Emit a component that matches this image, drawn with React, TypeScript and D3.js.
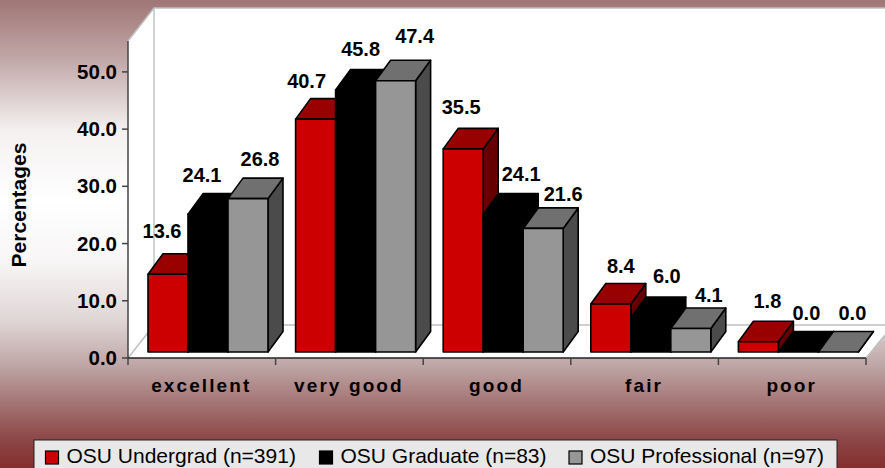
import * as d3 from "d3";

const WIDTH = 885;
const HEIGHT = 468;

const categories = ["excellent", "very good", "good", "fair", "poor"];
const seriesNames = ["OSU Undergrad (n=391)", "OSU Graduate (n=83)", "OSU Professional (n=97)"];
const undergrad = [13.6, 40.7, 35.5, 8.4, 1.8];
const graduate = [24.1, 45.8, 24.1, 6.0, 0.0];
const professional = [26.8, 47.4, 21.6, 4.1, 0.0];
const yTicks = [0, 10, 20, 30, 40, 50];

const allSeries = [undergrad, graduate, professional];

// front, top, side faces per series
const FACES = [
  ["#cc0000", "#990000", "#660000"],
  ["#000000", "#000000", "#000000"],
  ["#969696", "#707070", "#4b4b4b"],
];

// the data labels were placed by hand in the original chart: [dx from bar centre, dy from back top]
const LABEL_NUDGE = [
  [[-6, -16], [-6, -12], [12, -12]],
  [[-9, -11], [5, -13.5], [19, -17]],
  [[-2, -14], [18, -12.5], [20, -7]],
  [[10, -10.5], [16, -14], [18, -6]],
  [[9, -13], [8, -11.5], [14, -11.5]],
];

const LEGEND_X = [45.5, 319.5, 569];

// background gradient, [y in px, colour]
const BG_STOPS: [number, string][] = [
  [0, "#a07676"],
  [60, "#c2a8a8"],
  [130, "#f4f0f0"],
  [200, "#ffffff"],
  [260, "#f8f6f6"],
  [320, "#e0d6d6"],
  [365, "#bfa6a6"],
  [400, "#a67878"],
  [440, "#8c4646"],
  [468, "#852e2e"],
];

const PLOT = { left: 128, right: 866, top: 41, bottom: 358 };
const WALL = { dx: 26, dy: -33 };
const BAR = { dx: 15, dy: -20.5, floorGap: 6, padLeft: 20, padRight: 7.6 };

const x0 = d3.scaleBand<string>().domain(categories).range([PLOT.left, PLOT.right]);
const x1 = d3
  .scaleBand<number>()
  .domain([0, 1, 2])
  .range([BAR.padLeft, x0.bandwidth() - BAR.padRight]);
const y = d3.scaleLinear().domain([0, 55.4]).range([PLOT.bottom, PLOT.top]);

const poly = (pts: number[][]) => pts.map((p) => p.join(",")).join(" ");

function Bar3D({ cat, s, value }: { cat: string; s: number; value: number }) {
  const left = (x0(cat) ?? 0) + (x1(s) ?? 0);
  const right = left + x1.bandwidth();
  const bottom = y(0) - BAR.floorGap;
  const top = y(value) - BAR.floorGap;
  const [front, topFace, side] = FACES[s];
  const { dx, dy } = BAR;
  return (
    <g stroke="#000" strokeWidth={1.6} strokeLinejoin="round">
      <polygon
        points={poly([[right, bottom], [right + dx, bottom + dy], [right + dx, top + dy], [right, top]])}
        fill={side}
      />
      <polygon
        points={poly([[left, top], [left + dx, top + dy], [right + dx, top + dy], [right, top]])}
        fill={topFace}
      />
      <rect x={left} y={top} width={x1.bandwidth()} height={bottom - top} fill={front} />
    </g>
  );
}

export default function App() {
  const backX = PLOT.left + WALL.dx;
  const backY = PLOT.bottom + WALL.dy;
  return (
    <svg
      width={WIDTH}
      height={HEIGHT}
      style={{ position: "absolute", left: 0, top: 0, display: "block" }}
      fontFamily="'Liberation Sans', Arial, sans-serif"
    >
      <defs>
        <linearGradient id="bg" x1="0" y1="0" x2="0" y2="1">
          {BG_STOPS.map(([py, color]) => (
            <stop key={py} offset={py / HEIGHT} stopColor={color} />
          ))}
        </linearGradient>
      </defs>
      <rect width={WIDTH} height={HEIGHT} fill="url(#bg)" />

      {/* walls and floor */}
      <polygon
        points={poly([[backX, PLOT.top + WALL.dy], [WIDTH, PLOT.top + WALL.dy], [WIDTH, backY], [backX, backY]])}
        fill="#fff"
      />
      <polygon
        points={poly([[PLOT.left, PLOT.top], [backX, PLOT.top + WALL.dy], [backX, backY], [PLOT.left, PLOT.bottom]])}
        fill="#fff"
      />
      <polygon
        points={poly([[PLOT.left, PLOT.bottom], [backX, backY], [WIDTH, backY], [WIDTH, backY + 10], [PLOT.right, PLOT.bottom]])}
        fill="#fff"
      />
      <g stroke="#c0c0c0" strokeWidth={1.5} fill="none">
        <polyline points={poly([[PLOT.left, PLOT.top], [backX, PLOT.top + WALL.dy], [WIDTH, PLOT.top + WALL.dy]])} />
        <line x1={backX} x2={backX} y1={PLOT.top + WALL.dy} y2={backY} />
        <polyline points={poly([[PLOT.left, PLOT.bottom], [backX, backY], [WIDTH, backY]])} />
        <line x1={PLOT.right} x2={WIDTH} y1={PLOT.bottom} y2={backY + 10} />
      </g>

      {/* bars */}
      {categories.map((cat, c) =>
        allSeries.map((values, s) => <Bar3D key={`${c}-${s}`} cat={cat} s={s} value={values[c]} />)
      )}

      {/* data labels */}
      <g fontSize={20} fontWeight="bold" fill="#000" textAnchor="middle">
        {categories.map((cat, c) =>
          allSeries.map((values, s) => (
            <text
              key={`${c}-${s}`}
              x={(x0(cat) ?? 0) + (x1(s) ?? 0) + x1.bandwidth() / 2 + LABEL_NUDGE[c][s][0]}
              y={y(values[c]) - BAR.floorGap + BAR.dy + LABEL_NUDGE[c][s][1]}
            >
              {values[c].toFixed(1)}
            </text>
          ))
        )}
      </g>

      {/* y axis */}
      <line x1={PLOT.left} x2={PLOT.left} y1={PLOT.top} y2={PLOT.bottom} stroke="#444" strokeWidth={1.5} />
      {yTicks.map((t) => (
        <g key={t}>
          <line x1={PLOT.left - 6} x2={PLOT.left} y1={y(t)} y2={y(t)} stroke="#444" strokeWidth={1.5} />
          <text x={117} y={y(t) + 7} textAnchor="end" fontSize={20.5} fontWeight="bold" fill="#000">
            {t.toFixed(1)}
          </text>
        </g>
      ))}
      <text
        transform="translate(26,205) rotate(-90)"
        textAnchor="middle"
        fontSize={21}
        fontWeight="bold"
        fill="#000"
      >
        Percentages
      </text>

      {/* x axis */}
      <line x1={PLOT.left} x2={PLOT.right} y1={PLOT.bottom} y2={PLOT.bottom} stroke="#222" strokeWidth={1.5} />
      {[...categories.map((c) => x0(c) ?? 0), PLOT.right].map((tx) => (
        <line key={tx} x1={tx} x2={tx} y1={PLOT.bottom} y2={PLOT.bottom + 7} stroke="#444" strokeWidth={1.5} />
      ))}
      {categories.map((cat) => (
        <text
          key={cat}
          x={(x0(cat) ?? 0) + x0.bandwidth() / 2 - 0.5}
          y={392}
          textAnchor="middle"
          fontSize={19}
          fontWeight="bold"
          letterSpacing={2.1}
          fill="#000"
        >
          {cat}
        </text>
      ))}

      {/* legend */}
      <rect x={34} y={440} width={803} height={29} fill="#e8e8e8" stroke="#222" strokeWidth={1} />
      {seriesNames.map((name, s) => (
        <g key={name}>
          <rect x={LEGEND_X[s]} y={451} width={13} height={13} fill={FACES[s][0]} stroke="#000" strokeWidth={1.2} />
          <text x={LEGEND_X[s] + 21} y={463} fontSize={21} fill="#000">
            {name}
          </text>
        </g>
      ))}
    </svg>
  );
}
